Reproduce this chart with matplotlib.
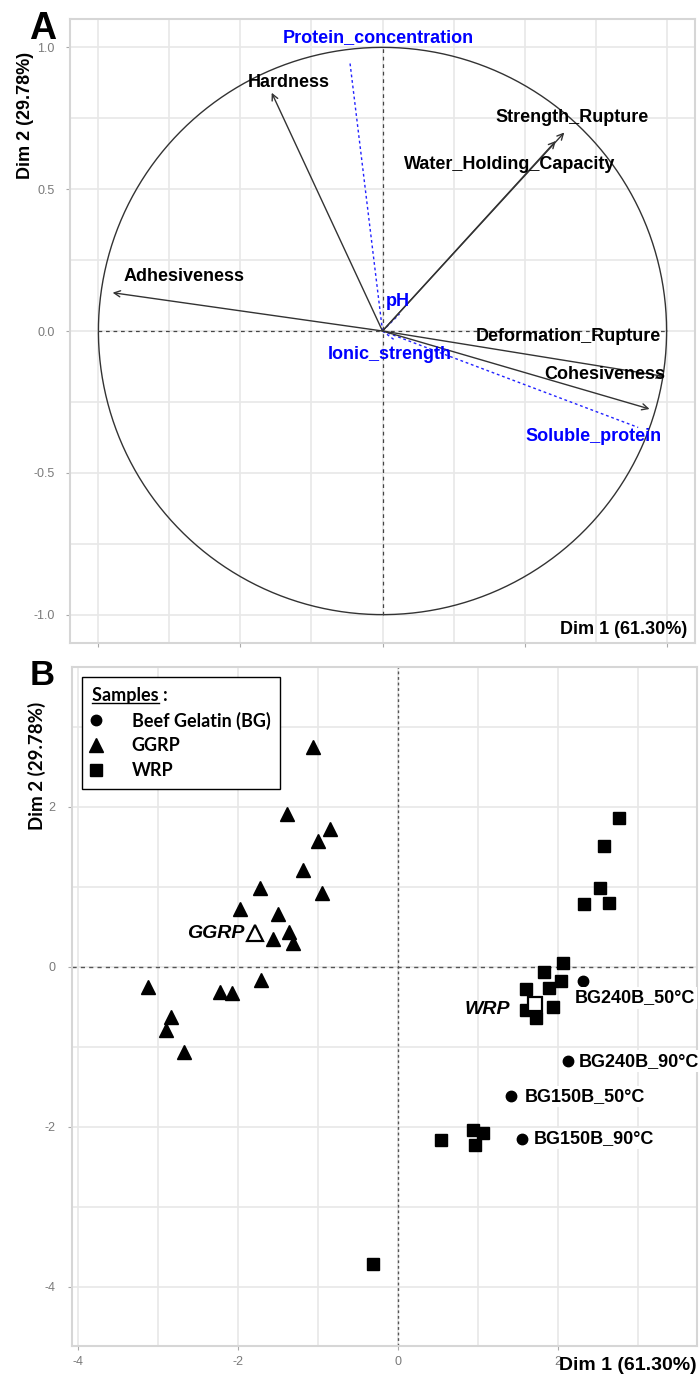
import numpy as np
import matplotlib
matplotlib.use("Agg")
import matplotlib.pyplot as plt
from matplotlib.lines import Line2D

# ---- Panel A : correlation circle (active + supplementary variables) ----
act_names = ["Hardness", "Strength_Rupture", "Water_Holding_Capacity",
             "Adhesiveness", "Deformation_Rupture", "Cohesiveness"]
act_x = [-0.39, 0.64, 0.61, -0.95, 0.99, 0.94]
act_y = [0.84, 0.70, 0.67, 0.135, -0.16, -0.275]

sup_names = ["Protein_concentration", "pH", "Ionic_strength", "Soluble_protein"]
sup_x = [-0.115, 0.06, 0.04, 0.90]
sup_y = [0.95, 0.06, -0.03, -0.34]

# where the labels sit (centre of text)
act_lab_pos = [(-0.33, 0.876), (0.667, 0.752), (0.448, 0.587),
               (-0.70, 0.193), (0.656, -0.019), (0.784, -0.152)]
sup_lab_pos = [(-0.015, 1.034), (0.055, 0.104), (0.027, -0.082), (0.742, -0.372)]

# ---- Panel B : individuals ----
ggrp_x = [-1.06, -1.39, -0.85, -1.00, -1.19, -1.72, -0.95, -1.98, -1.50, -1.36,
          -1.56, -1.31, -1.71, -3.12, -2.22, -2.07, -2.84, -2.90, -2.67]
ggrp_y = [2.75, 1.91, 1.72, 1.57, 1.21, 0.98, 0.92, 0.72, 0.66, 0.43,
          0.35, 0.30, -0.17, -0.25, -0.32, -0.33, -0.63, -0.79, -1.07]
ggrp_mean = (-1.79, 0.42)

wrp_x = [2.76, 2.58, 2.53, 2.33, 2.64, 2.06, 1.83, 2.04, 1.89, 1.60,
         1.94, 1.60, 1.73, 0.54, 0.94, 1.07, 0.97, -0.31]
wrp_y = [1.86, 1.51, 0.98, 0.78, 0.80, 0.05, -0.07, -0.18, -0.26, -0.28,
         -0.50, -0.54, -0.64, -2.17, -2.04, -2.08, -2.23, -3.71]
wrp_mean = (1.71, -0.47)

bg_names = ["BG240B_50°C", "BG240B_90°C", "BG150B_50°C", "BG150B_90°C"]
bg_x = [2.32, 2.13, 1.42, 1.55]
bg_y = [-0.18, -1.18, -1.62, -2.15]
bg_lab_pos = [(2.21, -0.39), (2.26, -1.18), (1.58, -1.62), (1.70, -2.15)]

plt.rcParams['font.family'] = ['Liberation Sans', 'DejaVu Sans']
plt.rcParams['axes.unicode_minus'] = False

W, H = 700, 1374
fig = plt.figure(figsize=(W / 100, H / 100), dpi=100)
fig.patch.set_facecolor('white')

axA = fig.add_axes([70 / W, 1 - 643 / H, 625 / W, 624 / H])
axB = fig.add_axes([72 / W, 1 - 1346 / H, 625 / W, 679 / H])


def style_axes(ax):
    for s in ax.spines.values():
        s.set_color('#d6d6d6')
        s.set_linewidth(1.5)
    ax.grid(True, which='both', color='#e8e8e8', lw=1.2)
    ax.set_axisbelow(True)
    ax.tick_params(which='major', length=3, color='#aaaaaa', labelcolor='#7a7a7a', labelsize=9)
    ax.tick_params(which='minor', length=0)


# ---------------- Panel A ----------------
style_axes(axA)
axA.set_xlim(-1.1, 1.1)
axA.set_ylim(-1.1, 1.1)
axA.set_xticks([-1.0, -0.5, 0.0, 0.5, 1.0])
axA.set_xticks([-0.75, -0.25, 0.25, 0.75], minor=True)
axA.set_xticklabels([])
axA.set_yticks([-1.0, -0.5, 0.0, 0.5, 1.0])
axA.set_yticks([-0.75, -0.25, 0.25, 0.75], minor=True)
axA.set_yticklabels(['-1.0', '-0.5', '0.0', '0.5', '1.0'])
axA.tick_params(axis='y', pad=8)

theta = np.linspace(0, 2 * np.pi, 400)
axA.plot(np.cos(theta), np.sin(theta), color='#333333', lw=1.0)
axA.plot([-1, 1], [0, 0], color='#444444', lw=0.9, ls=(0, (3, 3)))
axA.plot([0, 0], [-1, 1], color='#444444', lw=0.9, ls=(0, (3, 3)))

for x, y in zip(sup_x, sup_y):
    axA.plot([0, x], [0, y], color='#2222ff', lw=1.0, ls=(0, (2, 2)))

for x, y in zip(act_x, act_y):
    axA.annotate("", xy=(x, y), xytext=(0, 0),
                 arrowprops=dict(arrowstyle='->', color='#333333', lw=1.0,
                                 mutation_scale=11, shrinkA=0, shrinkB=0))

for name, (lx, ly) in zip(act_names, act_lab_pos):
    axA.text(lx, ly, name, ha='center', va='center', fontsize=13,
             fontweight='bold', color='black')
for name, (lx, ly) in zip(sup_names, sup_lab_pos):
    axA.text(lx, ly, name, ha='center', va='center', fontsize=13,
             fontweight='bold', color='#0000ff')

axA.text(0.987, 0.022, "Dim 1 (61.30%)", transform=axA.transAxes, ha='right',
         va='center', fontsize=13, fontweight='bold')
fig.text(25 / W, 1 - 115 / H, "Dim 2 (29.78%)", rotation=90, ha='center',
         va='center', fontsize=13, fontweight='bold')
fig.text(29 / W, 1 - 39 / H, "A", ha='left', va='baseline', fontsize=27, fontweight='bold')

# ---------------- Panel B ----------------
style_axes(axB)
axB.set_xlim(-4.075, 3.74)
axB.set_ylim(-4.74, 3.746)
axB.set_xticks([-4, -2, 0, 2])
axB.set_xticks([-3, -1, 1, 3], minor=True)
axB.set_yticks([-4, -2, 0, 2])
axB.set_yticks([-3, -1, 1, 3], minor=True)
axB.tick_params(axis='y', pad=9)
axB.tick_params(axis='x', pad=4)

axB.axhline(0, color='#555555', lw=1.0, ls=(0, (3, 3)))
axB.axvline(0, color='#555555', lw=1.0, ls=(0, (2, 2)))

axB.plot(ggrp_x, ggrp_y, ls='none', marker='^', ms=10, color='black')
axB.plot(wrp_x, wrp_y, ls='none', marker='s', ms=9, color='black')
axB.plot(bg_x, bg_y, ls='none', marker='o', ms=7.5, color='black')

axB.plot(*ggrp_mean, ls='none', marker='^', ms=11, mfc='white', mec='black', mew=1.6)
axB.plot(*wrp_mean, ls='none', marker='s', ms=10, mfc='white', mec='black', mew=1.6)

axB.text(ggrp_mean[0] - 0.13, ggrp_mean[1], "GGRP", ha='right', va='center',
         fontsize=14, fontweight='bold', fontstyle='italic')
axB.text(1.40, -0.53, "WRP", ha='right', va='center',
         fontsize=14, fontweight='bold', fontstyle='italic')

for name, (lx, ly) in zip(bg_names, bg_lab_pos):
    axB.text(lx, ly, name, ha='left', va='center', fontsize=13, fontweight='bold',
             bbox=dict(facecolor='white', edgecolor='none', pad=1.5))

fig.text(697 / W, 1 - 1365 / H, "Dim 1 (61.30%)", ha='right', va='center',
         fontsize=14, fontweight='bold')
fig.text(37 / W, 1 - 766 / H, "Dim 2 (29.78%)", rotation=90, ha='center',
         va='center', fontsize=13.5, fontweight='bold', family=['Lato', 'DejaVu Sans'])
fig.text(30 / W, 1 - 685 / H, "B", ha='left', va='baseline', fontsize=25, fontweight='bold')

# legend
leg_font = dict(family=['Lato', 'DejaVu Sans'], weight='bold', size=13)
handles = [Line2D([], [], ls='none', marker='o', color='black', ms=7.5, label='Beef Gelatin (BG)'),
           Line2D([], [], ls='none', marker='^', color='black', ms=10, label='GGRP'),
           Line2D([], [], ls='none', marker='s', color='black', ms=8.5, label='WRP')]
leg = axB.legend(handles=handles, title='Samples :', loc='upper left',
                 bbox_to_anchor=(0.016, 0.985), borderaxespad=0, prop=leg_font,
                 title_fontproperties=leg_font, alignment='left', fancybox=False,
                 edgecolor='black', framealpha=1, handlelength=0.5, handletextpad=1.7,
                 borderpad=0.55, labelspacing=0.42, numpoints=1)
leg.get_frame().set_linewidth(1.0)

# underline "Samples" in the legend title
fig.canvas.draw()
r = fig.canvas.get_renderer()
tb = leg.get_title().get_window_extent(r)
tmp = fig.text(0, 0, "Samples", fontproperties=leg.get_title().get_fontproperties())
w = tmp.get_window_extent(r).width
tmp.remove()
fig.add_artist(Line2D([tb.x0 / W, (tb.x0 + w) / W], [(tb.y0 + 1.5) / H] * 2,
                      color='black', lw=1.0, transform=fig.transFigure))

fig.savefig("out.png", dpi=100)
